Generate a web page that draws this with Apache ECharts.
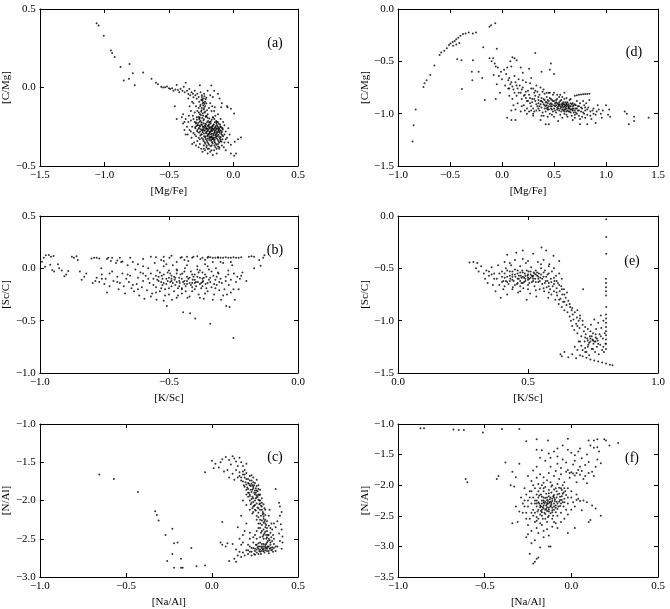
<!DOCTYPE html>
<html>
<head>
<meta charset="utf-8">
<script src="https://cdn.jsdelivr.net/npm/echarts@6/dist/echarts.min.js"></script>
<style>html,body{margin:0;padding:0;background:#fff}#c{width:670px;height:609px}</style>
</head>
<body>
<div id="c"></div>
<script>
// ---------- data ----------
const panelA = [
[-1.06,0.41],[-1.045,0.395],[-1.005,0.33],[-0.95,0.235],[-0.94,0.22],[-0.92,0.195],[-0.875,0.13],[-0.805,0.15],[-0.78,0.09],[-0.81,0.055],[-0.85,0.045],[-0.765,0.015],[-0.70,0.095],[-0.635,0.055],[-0.60,0.03],[-0.585,0.02],
[-0.56,0.004],[-0.545,0.0],[-0.53,0.002],[-0.515,0.006],[-0.50,-0.004],[-0.49,-0.01],[-0.475,-0.004],[-0.465,-0.02],[-0.45,-0.012],[-0.44,0.016],[-0.43,-0.016],[-0.42,-0.03],[-0.41,-0.008],[-0.395,-0.02],[-0.385,0.005],[-0.378,-0.03],[-0.37,0.03],[-0.36,-0.02],[-0.35,-0.042],[-0.342,-0.01],[-0.335,-0.05],[-0.325,-0.03],[-0.315,-0.04],[-0.31,-0.062],[-0.30,-0.02],[-0.295,-0.05],[-0.285,-0.072],[-0.28,-0.04],[-0.27,-0.06],[-0.26,0.015],[-0.255,-0.03],[-0.25,-0.08],[-0.245,-0.05],[-0.238,-0.1],[-0.232,-0.07],[-0.228,-0.04],[-0.22,-0.09],
[-0.455,-0.12],[-0.44,-0.2],[-0.172,0.012],[-0.15,-0.02],[-0.12,-0.04],[-0.108,-0.07],[-0.09,-0.1],[-0.05,-0.12],[-0.02,-0.135],[0.005,-0.165],[-0.145,-0.125],[-0.095,-0.125],[-0.045,-0.125],[-0.2,-0.02],[-0.18,-0.05],[-0.16,-0.06],
[-0.265,-0.09],[-0.255,-0.11],[-0.245,-0.13],[-0.24,-0.085],[-0.235,-0.115],[-0.23,-0.14],[-0.225,-0.16],[-0.22,-0.12],[-0.215,-0.075],[-0.21,-0.1],[-0.205,-0.145],[-0.25,-0.155],[-0.26,-0.17],[-0.235,-0.18],[-0.215,-0.185],[-0.2,-0.17],[-0.27,-0.13],[-0.28,-0.15],[-0.29,-0.12],[-0.3,-0.16],[-0.245,-0.06],[-0.225,-0.055],[-0.21,-0.065],[-0.32,-0.09],[-0.34,-0.12],[-0.31,-0.1],[-0.35,-0.07],[-0.33,-0.15],[-0.19,-0.13],[-0.18,-0.1],[-0.17,-0.15],[-0.165,-0.12],
[-0.4,-0.19],[-0.39,-0.23],[-0.38,-0.27],[-0.37,-0.2],[-0.36,-0.25],[-0.355,-0.3],[-0.35,-0.22],[-0.345,-0.18],[-0.34,-0.27],[-0.33,-0.21],[-0.325,-0.32],[-0.32,-0.25],[-0.315,-0.18],[-0.31,-0.29],[-0.305,-0.35],[-0.3,-0.22],[-0.295,-0.26],[-0.29,-0.31],[-0.285,-0.19],[-0.28,-0.34],[-0.275,-0.24],[-0.27,-0.38],[-0.265,-0.2],[-0.26,-0.36],[-0.25,-0.39],[-0.24,-0.41],[-0.23,-0.37],[-0.22,-0.4],[-0.21,-0.38],[-0.2,-0.42],[-0.19,-0.39],[-0.18,-0.41],[-0.17,-0.37],[-0.16,-0.43],[-0.15,-0.4],[-0.14,-0.38],[-0.13,-0.42],[-0.12,-0.36],[-0.11,-0.39],[-0.1,-0.34],[-0.09,-0.37],[-0.08,-0.31],[-0.07,-0.35],[-0.06,-0.28],[-0.05,-0.32],[-0.04,-0.26],[-0.06,-0.4],[-0.02,-0.42],[0.005,-0.435],[0.02,-0.42],[-0.02,-0.365],[0.035,-0.33],[0.01,-0.345],[0.058,-0.318],[-0.03,-0.3],[-0.08,-0.22],[-0.1,-0.2],[-0.12,-0.17],[-0.13,-0.22],[-0.14,-0.18],[-0.11,-0.26],[-0.09,-0.28],[-0.07,-0.24],[-0.15,-0.15],[-0.16,-0.19],
[-0.272,-0.188],[-0.243,-0.194],[-0.214,-0.186],[-0.187,-0.197],[-0.158,-0.191],
[-0.283,-0.205],[-0.256,-0.211],[-0.229,-0.202],[-0.197,-0.214],[-0.168,-0.206],[-0.134,-0.213],
[-0.291,-0.223],[-0.262,-0.218],[-0.233,-0.227],[-0.205,-0.221],[-0.176,-0.229],[-0.145,-0.222],[-0.113,-0.231],
[-0.278,-0.239],[-0.249,-0.234],[-0.219,-0.243],[-0.19,-0.237],[-0.161,-0.246],[-0.129,-0.239],[-0.101,-0.248],
[-0.296,-0.252],[-0.266,-0.258],[-0.238,-0.251],[-0.208,-0.26],[-0.179,-0.254],[-0.149,-0.262],[-0.118,-0.255],
[-0.281,-0.272],[-0.252,-0.266],[-0.223,-0.275],[-0.194,-0.268],[-0.165,-0.277],[-0.136,-0.27],[-0.106,-0.279],[-0.082,-0.268],
[-0.268,-0.288],[-0.239,-0.283],[-0.211,-0.292],[-0.182,-0.285],[-0.153,-0.294],[-0.123,-0.287],[-0.095,-0.296],
[-0.257,-0.305],[-0.228,-0.311],[-0.199,-0.303],[-0.17,-0.312],[-0.141,-0.306],[-0.112,-0.314],[-0.087,-0.304],
[-0.245,-0.322],[-0.216,-0.328],[-0.187,-0.321],[-0.158,-0.33],[-0.129,-0.323],[-0.1,-0.331],
[-0.232,-0.341],[-0.203,-0.347],[-0.174,-0.339],[-0.145,-0.348],[-0.116,-0.342],
[-0.219,-0.358],[-0.19,-0.364],[-0.161,-0.356],[-0.132,-0.365],
[-0.228,-0.248],[-0.199,-0.245],[-0.171,-0.25],[-0.142,-0.254],[-0.213,-0.264],[-0.184,-0.259],[-0.156,-0.266],[-0.127,-0.262],[-0.205,-0.28],[-0.176,-0.278],[-0.147,-0.284],[-0.118,-0.271],[-0.196,-0.296],[-0.167,-0.293],[-0.138,-0.3],[-0.186,-0.312],[-0.157,-0.318],[-0.128,-0.309],[-0.235,-0.265],[-0.246,-0.298],[-0.219,-0.231],[-0.188,-0.225],[-0.152,-0.236],[-0.124,-0.247],[-0.261,-0.242],[-0.2,-0.325],[-0.173,-0.33],[-0.215,-0.31],[-0.24,-0.276],[-0.108,-0.288],[-0.099,-0.316],[-0.145,-0.331]
];
const panelAExtra = [
[-0.263,-0.197],[-0.232,-0.209],[-0.201,-0.193],[-0.176,-0.216],[-0.148,-0.2],[-0.121,-0.219],
[-0.274,-0.226],[-0.247,-0.221],[-0.214,-0.234],[-0.183,-0.219],[-0.157,-0.24],[-0.132,-0.228],[-0.104,-0.236],
[-0.286,-0.245],[-0.259,-0.249],[-0.226,-0.256],[-0.195,-0.241],[-0.169,-0.262],[-0.139,-0.247],[-0.112,-0.266],[-0.09,-0.256],
[-0.27,-0.262],[-0.244,-0.27],[-0.211,-0.258],[-0.187,-0.281],[-0.158,-0.269],[-0.131,-0.283],[-0.1,-0.273],
[-0.259,-0.281],[-0.229,-0.293],[-0.2,-0.276],[-0.174,-0.3],[-0.145,-0.289],[-0.116,-0.302],[-0.092,-0.286],
[-0.25,-0.3],[-0.219,-0.317],[-0.191,-0.298],[-0.162,-0.322],[-0.134,-0.313],[-0.105,-0.325],
[-0.236,-0.33],[-0.207,-0.336],[-0.18,-0.318],[-0.15,-0.341],[-0.122,-0.333],[-0.093,-0.345],
[-0.222,-0.349],[-0.195,-0.355],[-0.166,-0.348],[-0.138,-0.357],[-0.11,-0.35],
[-0.207,-0.37],[-0.177,-0.374],[-0.148,-0.369],[-0.12,-0.376],
[-0.243,-0.24],[-0.216,-0.247],[-0.19,-0.252],[-0.163,-0.256],[-0.134,-0.259],[-0.226,-0.272],[-0.2,-0.264],[-0.172,-0.27],[-0.144,-0.276],[-0.117,-0.281],[-0.212,-0.287],[-0.185,-0.291],[-0.157,-0.304],[-0.129,-0.296],[-0.2,-0.309],[-0.171,-0.316],[-0.143,-0.32],[-0.188,-0.335],[-0.16,-0.33],
[-0.258,-0.12],[-0.248,-0.145],[-0.238,-0.165],[-0.228,-0.13],[-0.218,-0.155],[-0.208,-0.18],[-0.262,-0.19],[-0.252,-0.175],[-0.232,-0.095],[-0.242,-0.075],[-0.225,-0.105],[-0.268,-0.16],
[-0.33,-0.28],[-0.32,-0.36],[-0.3,-0.3],[-0.29,-0.37],[-0.28,-0.28],[-0.27,-0.32],[-0.26,-0.33],[-0.1,-0.25],[-0.085,-0.26],[-0.07,-0.3],[-0.06,-0.33],[-0.075,-0.38],[-0.04,-0.35],[-0.085,-0.33],[-0.11,-0.38],[-0.13,-0.39],[-0.17,-0.4],[-0.2,-0.39],[-0.23,-0.39],[-0.31,-0.2],[-0.29,-0.23],[-0.37,-0.3],[-0.38,-0.22],[-0.39,-0.17]
];
const panelB = [
[-0.992,0.062],[-0.985,0.1],[-0.977,0.126],[-0.965,0.128],[-0.957,0.11],[-0.947,0.118],[-0.98,0.016],[-0.96,0.035],[-0.952,-0.017],[-0.945,-0.03],[-0.93,0.04],[-0.925,0.0],[-0.915,-0.02],[-0.905,-0.075],[-0.898,-0.06],[-0.89,-0.025],[-0.876,0.11],[-0.868,0.1],[-0.858,0.115],[-0.853,0.08],[-0.845,-0.03],[-0.838,-0.11],[-0.828,-0.08],[-0.82,-0.05],[-0.8,0.095],[-0.79,0.1],[-0.78,0.1],[-0.77,0.095],[-0.762,0.0],
[-0.795,-0.14],[-0.785,-0.12],[-0.78,-0.09],[-0.77,-0.13],[-0.76,-0.06],[-0.75,-0.15],[-0.745,-0.1],[-0.74,-0.23],[-0.735,0.1],[-0.73,-0.17],[-0.725,0.07],[-0.72,-0.03],[-0.715,-0.12],[-0.705,0.05],[-0.7,-0.08],[-0.695,-0.2],[-0.69,-0.14],[-0.685,0.06],[-0.68,-0.05],[-0.675,-0.17],[-0.67,-0.24],[-0.665,-0.1],[-0.66,0.03],[-0.655,-0.13],[-0.65,-0.07],[-0.645,-0.19],[-0.64,0.06],[-0.635,-0.22],[-0.63,-0.01],[-0.625,-0.15],[-0.62,-0.09],[-0.615,-0.26],[-0.61,-0.04],[-0.605,-0.18],[-0.6,0.02],[-0.6,-0.12],[-0.595,-0.29],[-0.59,-0.07],
[-0.585,-0.21],[-0.58,0.0],[-0.575,-0.14],[-0.57,-0.05],[-0.565,-0.24],[-0.56,-0.1],[-0.555,0.05],[-0.55,-0.18],[-0.548,-0.3],[-0.545,-0.02],[-0.54,-0.12],[-0.535,-0.22],[-0.53,0.08],[-0.528,-0.07],[-0.525,-0.16],[-0.52,0.02],[-0.515,-0.26],[-0.51,-0.1],[-0.508,-0.36],[-0.505,-0.04],[-0.5,-0.19],[-0.498,0.1],[-0.495,-0.13],[-0.49,-0.07],[-0.488,-0.3],[-0.485,0.03],[-0.48,-0.22],[-0.478,-0.11],[-0.475,-0.16],[-0.47,0.06],[-0.468,-0.02],[-0.465,-0.26],[-0.46,-0.09],[-0.458,-0.14],[-0.455,0.1],[-0.45,-0.2],[-0.448,-0.05],[-0.445,-0.42],[-0.44,-0.12],[-0.438,0.0],[-0.435,-0.17],[-0.43,-0.08],[-0.428,-0.28],[-0.425,0.07],[-0.42,-0.14],[-0.418,-0.43],[-0.415,-0.03],[-0.41,-0.22],[-0.408,-0.11],[-0.405,0.11],[-0.4,-0.06],[-0.398,-0.48],[-0.395,-0.17],[-0.39,0.02],[-0.388,-0.13],[-0.385,-0.25],[-0.38,-0.09],[-0.378,0.09],[-0.375,-0.19],[-0.37,-0.04],[-0.368,-0.12],[-0.365,-0.29],[-0.36,0.04],[-0.358,-0.15],[-0.355,-0.08],[-0.35,-0.22],[-0.348,0.11],[-0.345,-0.01],[-0.34,-0.53],[-0.34,-0.13],[-0.335,-0.18],[-0.33,0.06],[-0.328,-0.07],[-0.325,-0.25],[-0.32,-0.11],[-0.318,0.0],[-0.315,-0.16],[-0.31,0.1],[-0.308,-0.05],[-0.305,-0.21],[-0.3,-0.1],[-0.298,-0.3],
[-0.54,-0.08],[-0.53,-0.13],[-0.52,-0.06],[-0.51,-0.15],[-0.5,-0.09],[-0.49,-0.12],[-0.48,-0.08],[-0.47,-0.13],[-0.46,-0.17],[-0.45,-0.1],[-0.44,-0.15],[-0.43,-0.12],[-0.42,-0.09],[-0.41,-0.14],[-0.4,-0.11],[-0.39,-0.08],[-0.38,-0.15],[-0.37,-0.1],[-0.36,-0.06],[-0.35,-0.14],[-0.5,-0.02],[-0.47,-0.05],[-0.44,-0.03],[-0.41,-0.06],[-0.38,-0.02],[-0.53,-0.19],[-0.49,-0.17],[-0.45,-0.19],[-0.41,-0.18],[-0.37,-0.17],
[-0.295,-0.14],[-0.29,0.05],[-0.285,-0.2],[-0.28,-0.08],[-0.278,-0.36],[-0.275,-0.25],[-0.27,-0.02],[-0.268,-0.16],[-0.265,-0.37],[-0.26,-0.11],[-0.255,0.03],[-0.25,-0.2],[-0.248,-0.05],[-0.245,-0.3],[-0.24,-0.13],[-0.25,-0.665],[-0.235,-0.08],[-0.23,-0.2],[-0.225,-0.1],[-0.22,-0.07],[-0.215,-0.04],[-0.2,-0.12],
[-0.35,0.1],[-0.34,0.105],[-0.33,0.1],[-0.32,0.1],[-0.31,0.105],[-0.3,0.1],[-0.29,0.1],[-0.28,0.105],[-0.27,0.1],[-0.26,0.1],[-0.25,0.105],[-0.24,0.1],[-0.23,0.1],[-0.22,0.105],[-0.19,0.11],[-0.18,0.115],[-0.17,0.11],[-0.15,0.08],[-0.145,0.025],[-0.135,0.1],[-0.13,0.125],[-0.17,0.0],
[-0.57,0.11],[-0.55,0.105],[-0.52,0.11],[-0.49,0.12],[-0.45,0.105],[-0.43,0.11],[-0.41,0.1],[-0.39,0.115],[-0.37,0.1],[-0.74,0.09],[-0.72,0.1],[-0.7,0.075],[-0.68,0.065],[-0.62,0.04]
];
const panelBExtra = [
[-0.545,-0.11],[-0.535,-0.04],[-0.525,-0.1],[-0.515,-0.2],[-0.505,-0.12],[-0.495,-0.05],[-0.485,-0.14],[-0.475,-0.09],[-0.465,-0.19],[-0.455,-0.06],[-0.445,-0.13],[-0.435,-0.22],[-0.425,-0.1],[-0.415,-0.16],[-0.405,-0.08],[-0.395,-0.13],[-0.385,-0.04],[-0.375,-0.14],[-0.365,-0.09],[-0.355,-0.19],[-0.345,-0.11],[-0.335,-0.03],[-0.325,-0.15],[-0.315,-0.08],[-0.305,-0.13],[-0.56,-0.16],[-0.55,-0.07],[-0.52,-0.14],[-0.49,-0.1],[-0.46,-0.12],[-0.43,-0.15],[-0.4,-0.14],[-0.37,-0.13],[-0.34,-0.09],[-0.47,-0.01],[-0.43,0.03],[-0.39,-0.01],[-0.35,0.02],[-0.51,0.04],[-0.55,-0.23],[-0.5,-0.25],[-0.45,-0.24],[-0.4,-0.2],[-0.36,-0.24],[-0.32,-0.19],[-0.6,-0.05],[-0.62,-0.2],[-0.58,-0.1],[-0.66,-0.06],[-0.7,-0.13],[-0.76,-0.1],[-0.73,-0.05],[-0.64,-0.16],[-0.57,-0.27],[-0.52,-0.31],[-0.47,-0.28],[-0.42,-0.27],[-0.38,-0.28],[-0.33,-0.3],[-0.29,-0.26],[-0.26,-0.23],[-0.28,-0.12],[-0.27,-0.06],[-0.31,-0.04],[-0.3,0.06],[-0.26,0.06],[-0.36,0.08],[-0.44,0.08],[-0.52,0.07],[-0.6,0.09],[-0.65,0.1],[-0.69,0.1]
];
const panelC = [
[0.0,-1.48],[0.02,-1.52],[0.05,-1.5],[0.06,-1.46],[0.08,-1.43],[0.1,-1.47],[0.12,-1.42],[0.13,-1.45],[0.14,-1.49],[0.16,-1.44],[0.17,-1.5],[0.18,-1.55],[0.15,-1.55],[0.11,-1.53],[0.09,-1.6],[0.07,-1.62],[0.12,-1.65],[0.14,-1.6],[0.16,-1.63],[0.19,-1.6],[0.1,-1.7],[0.13,-1.73],[0.15,-1.7],[-0.04,-1.63],[0.01,-1.58],[0.2,-1.52],[0.04,-1.57],
[0.16,-1.68],[0.17,-1.74],[0.18,-1.66],[0.185,-1.8],[0.19,-1.7],[0.195,-1.76],[0.2,-1.64],[0.205,-1.83],[0.21,-1.72],[0.215,-1.78],[0.22,-1.68],[0.225,-1.86],[0.23,-1.74],[0.235,-1.8],[0.24,-1.7],[0.245,-1.9],[0.25,-1.77],[0.255,-1.84],[0.26,-1.73],[0.265,-1.88],[0.27,-1.8],[0.275,-1.93],[0.28,-1.86],[0.2,-1.79],[0.21,-1.85],[0.22,-1.8],[0.23,-1.89],[0.24,-1.84],[0.25,-1.92],[0.26,-1.87],[0.19,-1.82],[0.18,-1.75],[0.215,-1.9],[0.235,-1.95],[0.255,-1.97],[0.27,-1.99],
[0.21,-1.95],[0.22,-2.0],[0.225,-2.05],[0.23,-1.98],[0.235,-2.1],[0.24,-2.02],[0.245,-2.07],[0.25,-2.0],[0.255,-2.13],[0.26,-2.04],[0.265,-2.09],[0.27,-2.16],[0.275,-2.05],[0.28,-2.12],[0.285,-2.2],[0.29,-2.08],[0.295,-2.15],[0.3,-2.24],[0.305,-2.1],[0.31,-2.19],[0.24,-1.97],[0.26,-1.96],[0.28,-2.0],[0.25,-2.06],[0.27,-2.1],[0.29,-2.03],[0.3,-2.17],[0.28,-2.25],[0.26,-2.2],[0.22,-2.12],[0.2,-2.06],[0.18,-2.0],[0.235,-2.17],[0.31,-2.3],[0.32,-2.27],
[0.27,-2.3],[0.28,-2.36],[0.285,-2.42],[0.29,-2.32],[0.295,-2.47],[0.3,-2.38],[0.305,-2.43],[0.31,-2.35],[0.315,-2.5],[0.32,-2.4],[0.325,-2.45],[0.33,-2.33],[0.335,-2.52],[0.34,-2.42],[0.345,-2.48],[0.3,-2.5],[0.28,-2.48],[0.26,-2.4],[0.25,-2.45],[0.32,-2.55],[0.35,-2.38],[0.36,-2.3],[0.3,-2.29],
[0.2,-2.65],[0.21,-2.7],[0.22,-2.6],[0.23,-2.67],[0.24,-2.55],[0.245,-2.7],[0.25,-2.63],[0.255,-2.58],[0.26,-2.68],[0.265,-2.61],[0.27,-2.56],[0.275,-2.66],[0.28,-2.6],[0.285,-2.7],[0.29,-2.57],[0.295,-2.64],[0.3,-2.6],[0.305,-2.68],[0.31,-2.62],[0.315,-2.57],[0.32,-2.66],[0.325,-2.6],[0.33,-2.69],[0.335,-2.63],[0.34,-2.58],[0.345,-2.65],[0.35,-2.61],[0.355,-2.67],[0.36,-2.62],[0.27,-2.63],[0.29,-2.62],[0.31,-2.65],[0.33,-2.6],[0.3,-2.66],[0.26,-2.64],[0.28,-2.67],[0.32,-2.63],[0.24,-2.62],[0.19,-2.72],[0.18,-2.68],[0.17,-2.74],
[0.37,-1.85],[0.39,-2.03],[0.395,-2.08],[0.405,-2.15],[0.395,-2.2],[0.38,-2.27],[0.4,-2.31],[0.37,-2.35],[0.405,-2.38],[0.39,-2.43],[0.41,-2.47],[0.395,-2.53],[0.41,-2.55],[0.38,-2.6],[0.405,-2.63],[0.37,-2.66],[0.36,-2.5],[0.355,-2.45],[0.345,-2.3],[0.33,-2.2],[0.335,-2.12],
[0.06,-2.28],[0.05,-2.55],[0.06,-2.58],[0.08,-2.6],[0.09,-2.56],[0.1,-2.79],[0.12,-2.57],[0.14,-2.64],[0.15,-2.72],[0.16,-2.67],[0.17,-2.58],[0.16,-2.5],[0.18,-2.45],[0.19,-2.4],[0.2,-2.3],[0.17,-2.2],[0.15,-2.35],[0.22,-2.5],[0.21,-2.58],[0.13,-2.76],[0.14,-2.8],[0.18,-2.55],
[-0.655,-1.66],[-0.57,-1.72],[-0.43,-1.89],[-0.33,-2.14],[-0.32,-2.19],[-0.31,-2.26],[-0.27,-2.45],[-0.23,-2.37],[-0.22,-2.56],[-0.2,-2.55],[-0.23,-2.7],[-0.26,-2.79],[-0.18,-2.76],[-0.22,-2.88],[-0.18,-2.88],[-0.17,-2.88],[-0.09,-2.86],[-0.04,-2.85],[-0.12,-2.62]
];
const panelCExtra = [
[0.19,-1.66],[0.2,-1.72],[0.21,-1.77],[0.22,-1.74],[0.225,-1.81],[0.23,-1.78],[0.235,-1.86],[0.24,-1.82],[0.245,-1.8],[0.25,-1.87],[0.255,-1.9],[0.26,-1.93],[0.265,-1.95],[0.27,-1.92],[0.275,-2.0],[0.28,-2.04],[0.285,-2.07],[0.29,-2.12],[0.295,-2.18],[0.3,-2.21],[0.305,-2.27],[0.31,-2.25],[0.315,-2.32],[0.32,-2.36],[0.31,-2.41],[0.315,-2.45],[0.32,-2.48],[0.33,-2.5],[0.325,-2.53],[0.31,-2.58],[0.3,-2.63],[0.29,-2.66],[0.28,-2.64],[0.27,-2.6],[0.33,-2.66],[0.34,-2.62],[0.35,-2.64],[0.32,-2.61],[0.31,-2.6],[0.3,-2.57],[0.29,-2.6],[0.28,-2.55],[0.26,-2.58],[0.25,-2.66],[0.23,-2.62],[0.22,-2.67],[0.34,-2.55],[0.35,-2.53],[0.33,-2.45],[0.34,-2.36],[0.29,-2.4],[0.3,-2.45],[0.28,-2.3],[0.29,-2.26],[0.27,-2.22],[0.25,-2.12],[0.24,-2.08],[0.23,-2.03],[0.22,-1.94],[0.21,-1.9],[0.2,-1.86],[0.17,-1.7],[0.18,-1.62],[0.23,-1.67],[0.24,-1.76],[0.26,-1.81],[0.27,-1.85],[0.28,-1.92],[0.29,-1.97],[0.3,-2.05],[0.31,-2.12],[0.22,-1.92],[0.2,-1.92],[0.24,-2.15],[0.26,-2.25],[0.27,-2.36],[0.26,-2.5],[0.24,-2.48],[0.22,-2.42],[0.21,-2.65],[0.23,-2.72],[0.25,-2.71],[0.27,-2.7],[0.36,-2.57],[0.37,-2.6]
];
const panelD = [
[-0.86,-1.265],[-0.85,-1.11],[-0.83,-0.96],[-0.755,-0.745],[-0.745,-0.71],[-0.725,-0.68],[-0.69,-0.63],[-0.65,-0.54],[-0.6,-0.44],[-0.585,-0.415],[-0.555,-0.4],[-0.53,-0.375],[-0.51,-0.345],[-0.495,-0.33],[-0.475,-0.315],[-0.455,-0.305],[-0.44,-0.29],[-0.42,-0.275],[-0.4,-0.255],[-0.375,-0.24],[-0.35,-0.235],[-0.32,-0.225],[-0.28,-0.235],[-0.25,-0.225],[-0.12,-0.17],[-0.105,-0.155],[-0.065,-0.135],[-0.44,-0.34],[-0.41,-0.325],[-0.47,-0.35],
[-0.43,-0.48],[-0.39,-0.49],[-0.385,-0.765],[-0.29,-0.6],[-0.285,-0.68],[-0.28,-0.49],[-0.225,-0.6],[-0.19,-0.66],[-0.18,-0.365],[-0.165,-0.87],[-0.12,-0.47],[-0.085,-0.47],[-0.05,-0.38],[-0.07,-0.52],[-0.06,-0.55],[-0.1,-0.5],[-0.04,-0.56],[-0.03,-0.64],[-0.05,-0.72],[-0.01,-0.6],[0.0,-0.67],[-0.08,-0.63],[-0.06,-0.86],[-0.02,-0.8],[0.02,-0.58],[0.04,-0.62],[0.05,-0.56],[0.08,-0.5],[0.1,-0.46],[0.12,-0.47],[0.14,-0.49],[0.09,-0.55],[0.06,-0.68],[0.03,-0.73],[0.07,-0.76],[0.32,-0.42],[0.47,-0.52],[0.46,-0.58],[0.5,-0.62],[0.38,-0.6],[0.26,-0.57],[0.2,-0.61],[0.18,-0.56],[0.28,-0.66],[0.05,-1.04],[0.09,-1.06],[0.13,-1.06],[0.3,-1.02],[0.42,-1.1],[0.45,-1.1],[0.37,-1.06],[0.54,-1.07],[0.75,-1.1],[0.82,-1.1],[0.68,-1.06],[0.9,-1.09],[1.0,-0.92],[1.03,-0.96],[1.02,-1.01],[1.04,-1.03],[0.97,-0.97],[0.95,-1.0],[1.2,-1.0],[1.22,-1.1],[1.27,-1.03],[1.27,-1.07],[1.41,-1.04],[1.18,-0.98],[0.85,-0.98],[0.88,-0.95],[0.92,-0.92],
[0.7,-0.83],[0.72,-0.825],[0.74,-0.82],[0.76,-0.818],[0.78,-0.815],[0.8,-0.813],[0.82,-0.812],[0.84,-0.81],
[0.06,-0.76],[0.08,-0.72],[0.1,-0.74],[0.12,-0.8],[0.1,-0.86],[0.13,-0.7],[0.15,-0.76],[0.14,-0.83],[0.07,-0.83],[0.11,-0.92],[0.15,-0.9],[0.09,-0.97],[0.13,-0.96],[0.16,-0.67],[0.12,-0.64],
[0.17,-0.73],[0.18,-0.8],[0.19,-0.86],[0.2,-0.75],[0.21,-0.92],[0.22,-0.82],[0.23,-0.7],[0.24,-0.88],[0.18,-0.98],[0.22,-0.97],[0.25,-0.78],[0.2,-0.68],[0.24,-0.95],[0.19,-0.93],[0.23,-0.85],
[0.26,-0.82],[0.27,-0.9],[0.28,-0.76],[0.29,-0.86],[0.3,-0.95],[0.31,-0.8],[0.32,-0.88],[0.33,-0.73],[0.34,-0.93],[0.26,-0.98],[0.3,-1.0],[0.35,-0.84],[0.28,-0.93],[0.33,-0.97],[0.32,-0.78],[0.27,-0.71],[0.35,-0.9],
[0.36,-0.82],[0.37,-0.88],[0.38,-0.94],[0.39,-0.79],[0.4,-0.86],[0.41,-0.92],[0.42,-0.98],[0.43,-0.84],[0.44,-0.9],[0.45,-0.8],[0.36,-0.97],[0.4,-1.02],[0.43,-0.95],[0.38,-0.85],[0.41,-0.81],[0.44,-0.87],[0.45,-0.93],[0.37,-0.91],[0.42,-0.89],[0.39,-0.99],
[0.46,-0.85],[0.47,-0.9],[0.48,-0.96],[0.49,-0.82],[0.5,-0.88],[0.51,-0.93],[0.52,-0.99],[0.53,-0.86],[0.54,-0.91],[0.55,-0.84],[0.46,-1.0],[0.5,-1.03],[0.53,-0.96],[0.48,-0.87],[0.51,-0.9],[0.47,-0.93],[0.52,-0.89],[0.54,-0.95],[0.49,-0.98],[0.55,-0.92],[0.46,-0.8],
[0.56,-0.88],[0.57,-0.94],[0.58,-0.9],[0.59,-0.97],[0.6,-0.86],[0.61,-0.92],[0.62,-0.95],[0.63,-0.89],[0.64,-0.98],[0.65,-0.93],[0.56,-1.01],[0.6,-1.0],[0.63,-1.03],[0.58,-0.93],[0.61,-0.96],[0.57,-0.91],[0.62,-0.91],[0.59,-0.94],[0.64,-0.95],[0.6,-0.93],[0.65,-0.87],[0.58,-0.84],
[0.66,-0.9],[0.67,-0.96],[0.68,-0.93],[0.69,-0.99],[0.7,-0.91],[0.71,-0.95],[0.72,-1.0],[0.73,-0.93],[0.74,-0.97],[0.75,-0.9],[0.67,-1.02],[0.7,-1.04],[0.66,-0.86],[0.72,-0.88],[0.68,-0.97],[0.74,-1.02],
[0.76,-0.94],[0.78,-0.99],[0.79,-0.92],[0.8,-0.97],[0.82,-1.01],[0.83,-0.94],[0.85,-1.02],[0.87,-0.97],[0.9,-1.01],[0.93,-0.96],[0.77,-1.03],[0.81,-0.9],[0.84,-0.87],[0.78,-0.88],
[0.43,-0.92],[0.45,-0.96],[0.47,-0.86],[0.5,-0.95],[0.52,-0.92],[0.55,-0.97],[0.57,-0.87],[0.59,-0.91],[0.6,-0.96],[0.62,-0.93],[0.63,-0.97],[0.65,-0.95],[0.66,-0.93],[0.68,-0.9],[0.69,-0.95],[0.71,-0.92],[0.64,-0.91],[0.61,-0.89],[0.56,-0.93],[0.53,-0.9],[0.48,-0.93],[0.44,-0.94],[0.41,-0.95],[0.39,-0.89]
];
const panelDExtra = [
[0.31,-0.86],[0.33,-0.91],[0.35,-0.87],[0.36,-0.93],[0.38,-0.88],[0.4,-0.91],[0.41,-0.87],[0.43,-0.89],[0.44,-0.96],[0.46,-0.91],[0.47,-0.95],[0.49,-0.88],[0.5,-0.92],[0.51,-0.97],[0.52,-0.87],[0.54,-0.93],[0.55,-0.89],[0.56,-0.95],[0.57,-0.98],[0.58,-0.96],[0.59,-0.89],[0.6,-0.91],[0.61,-0.94],[0.62,-0.98],[0.63,-0.92],[0.64,-0.94],[0.65,-0.98],[0.66,-0.96],[0.67,-0.91],[0.68,-0.95],[0.69,-0.92],[0.7,-0.97],[0.71,-0.99],[0.72,-0.95],[0.73,-0.97],[0.74,-0.93],[0.76,-0.98],[0.77,-0.95],[0.79,-1.0],[0.8,-0.94],[0.42,-0.93],[0.45,-0.88],[0.48,-0.91],[0.53,-0.94],[0.55,-0.91],[0.58,-0.92],[0.6,-0.98],[0.62,-0.9],[0.64,-0.93],[0.66,-0.99],[0.35,-0.95],[0.32,-0.83],[0.29,-0.89],[0.27,-0.85],[0.25,-0.88],[0.23,-0.79],[0.21,-0.83],[0.19,-0.77],[0.16,-0.8],[0.14,-0.73],[0.11,-0.77],[0.09,-0.7],[0.07,-0.66],[0.28,-0.97],[0.31,-0.98],[0.24,-1.0],[0.38,-1.02],[0.44,-1.03],[0.48,-1.01],[0.58,-1.04],[0.62,-1.01],[0.7,-1.01],[0.75,-1.05],[0.8,-1.04],[0.86,-1.05],[0.88,-1.0],[0.91,-0.98],[0.96,-1.04],[0.82,-0.96],[0.3,-0.76],[0.34,-0.79],[0.37,-0.75],[0.4,-0.77],[0.43,-0.8],[0.5,-0.8],[0.53,-0.82],[0.56,-0.82],[0.62,-0.85],[0.6,-0.8]
];
const panelE = [
[0.275,-0.445],[0.29,-0.44],[0.305,-0.45],[0.3,-0.5],[0.31,-0.53],[0.32,-0.48],[0.33,-0.55],[0.335,-0.6],[0.34,-0.52],[0.35,-0.57],[0.345,-0.64],[0.36,-0.49],[0.365,-0.66],[0.37,-0.55],[0.375,-0.72],[0.38,-0.6],[0.385,-0.47],[0.39,-0.66],[0.395,-0.78],[0.4,-0.53],[0.405,-0.7],[0.41,-0.44],[0.415,-0.62],[0.42,-0.37],[0.42,-0.75],
[0.4,-0.58],[0.405,-0.62],[0.41,-0.55],[0.415,-0.5],[0.42,-0.58],[0.425,-0.65],[0.43,-0.53],[0.432,-0.6],[0.435,-0.47],[0.44,-0.56],[0.442,-0.68],[0.445,-0.62],[0.45,-0.51],[0.452,-0.58],[0.455,-0.35],[0.458,-0.65],[0.46,-0.55],[0.462,-0.73],[0.465,-0.6],[0.47,-0.48],[0.472,-0.57],[0.475,-0.64],[0.478,-0.52],[0.48,-0.33],[0.482,-0.69],[0.485,-0.59],[0.488,-0.55],[0.49,-0.62],[0.492,-0.45],[0.495,-0.8],[0.498,-0.57],[0.5,-0.66],[0.502,-0.53],[0.505,-0.6],[0.508,-0.74],[0.51,-0.56],[0.512,-0.49],[0.515,-0.63],[0.518,-0.58],[0.52,-0.36],[0.522,-0.54],[0.525,-0.67],[0.528,-0.6],[0.53,-0.52],[0.532,-0.77],[0.535,-0.57],[0.538,-0.44],[0.54,-0.63],[0.542,-0.55],[0.545,-0.7],[0.548,-0.59],[0.55,-0.5],
[0.43,-0.57],[0.44,-0.61],[0.45,-0.56],[0.46,-0.6],[0.47,-0.62],[0.48,-0.58],[0.49,-0.6],[0.5,-0.56],[0.51,-0.59],[0.52,-0.57],[0.53,-0.56],[0.44,-0.53],[0.46,-0.64],[0.48,-0.64],[0.5,-0.61],[0.52,-0.62],[0.42,-0.63],[0.41,-0.59],[0.47,-0.54],[0.54,-0.6],
[0.552,-0.3],[0.555,-0.65],[0.56,-0.58],[0.562,-0.72],[0.565,-0.52],[0.568,-0.62],[0.57,-0.33],[0.572,-0.68],[0.575,-0.56],[0.578,-0.78],[0.58,-0.64],[0.582,-0.46],[0.585,-0.7],[0.588,-0.6],[0.59,-0.75],[0.592,-0.53],[0.595,-0.67],[0.598,-0.38],[0.6,-0.72],[0.602,-0.62],[0.605,-0.8],[0.608,-0.57],[0.61,-0.69],[0.612,-0.76],[0.615,-0.64],[0.618,-0.84],[0.62,-0.43],[0.622,-0.72],[0.625,-0.79],[0.628,-0.67],[0.63,-0.87],[0.632,-0.75],[0.635,-0.82],[0.638,-0.7],[0.64,-0.9],[0.645,-0.78],[0.648,-0.85],[0.65,-0.73],[0.6,-0.65],[0.58,-0.67],[0.61,-0.73],
[0.652,-0.92],[0.655,-0.81],[0.66,-0.96],[0.662,-0.87],[0.665,-1.0],[0.668,-0.9],[0.67,-1.05],[0.672,-0.94],[0.675,-0.99],[0.678,-1.09],[0.68,-0.92],[0.685,-1.03],[0.688,-0.97],[0.69,-1.12],[0.695,-1.0],[0.698,-1.07],[0.7,-0.95],[0.705,-1.15],[0.71,-1.04],[0.712,-0.7],
[0.715,-1.1],[0.718,-1.2],[0.72,-1.26],[0.722,-1.13],[0.725,-1.3],[0.728,-1.17],[0.73,-1.08],[0.732,-1.23],[0.735,-1.33],[0.738,-1.15],[0.74,-1.2],[0.742,-1.04],[0.745,-1.27],[0.748,-1.18],[0.75,-1.12],[0.752,-1.22],[0.755,-0.99],[0.758,-1.3],[0.76,-1.16],[0.762,-1.08],[0.765,-1.25],[0.768,-1.19],[0.77,-1.02],[0.772,-1.32],[0.775,-1.13],[0.778,-1.23],[0.78,-0.95],[0.782,-1.07],[0.785,-1.28],[0.788,-1.17],[0.79,-1.0],[0.792,-1.3],[0.795,-1.12],[0.798,-1.22],[0.74,-1.17],[0.75,-1.19],[0.76,-1.2],[0.73,-1.19],
[0.625,-1.32],[0.63,-1.34],[0.64,-1.3],[0.655,-1.35],[0.67,-1.32],[0.685,-1.36],[0.69,-1.28],[0.7,-1.33],[0.705,-1.24],[0.695,-1.2],[0.68,-1.25],
[0.71,-1.34],[0.725,-1.355],[0.74,-1.37],[0.755,-1.38],[0.77,-1.39],[0.785,-1.4],[0.8,-1.41],[0.815,-1.42],[0.825,-1.425],
[0.801,-0.03],[0.801,-0.2],[0.801,-0.36],[0.8,-0.6],[0.8,-0.64],[0.8,-0.68],[0.8,-0.72],[0.8,-0.76],[0.801,-0.87],[0.8,-0.94],[0.8,-0.98],[0.8,-1.02],[0.8,-1.06],[0.8,-1.1],[0.8,-1.14],[0.8,-1.18],[0.8,-1.22],[0.8,-1.27]
];
const panelEExtra = [
[0.39,-0.55],[0.4,-0.63],[0.41,-0.67],[0.42,-0.52],[0.43,-0.62],[0.44,-0.58],[0.45,-0.66],[0.46,-0.52],[0.465,-0.57],[0.47,-0.67],[0.475,-0.59],[0.48,-0.54],[0.485,-0.63],[0.49,-0.57],[0.495,-0.52],[0.5,-0.59],[0.505,-0.64],[0.51,-0.53],[0.515,-0.57],[0.52,-0.6],[0.525,-0.55],[0.53,-0.63],[0.535,-0.54],[0.54,-0.58],[0.545,-0.62],[0.55,-0.56],[0.555,-0.6],[0.56,-0.54],[0.565,-0.64],[0.57,-0.58],[0.575,-0.62],[0.58,-0.55],[0.59,-0.63],[0.6,-0.59],[0.61,-0.62],[0.37,-0.6],[0.36,-0.56],[0.35,-0.53],[0.44,-0.7],[0.47,-0.72],[0.5,-0.7],[0.53,-0.71],[0.56,-0.69],[0.58,-0.73],[0.62,-0.66],[0.63,-0.7],[0.64,-0.75],[0.62,-0.8],[0.64,-0.82],[0.66,-0.84],[0.67,-0.88],[0.69,-0.9],[0.7,-0.98],[0.71,-1.0],[0.72,-1.06],[0.69,-1.05],[0.48,-0.41],[0.5,-0.43],[0.45,-0.42],[0.43,-0.45],[0.56,-0.42],[0.58,-0.48],[0.55,-0.46],[0.6,-0.5],[0.62,-0.55],[0.63,-0.6],
[0.72,-1.16],[0.73,-1.25],[0.74,-1.1],[0.75,-1.27],[0.76,-1.13],[0.77,-1.22],[0.78,-1.15],[0.79,-1.25],[0.755,-1.2],[0.745,-1.15],[0.765,-1.17],[0.735,-1.21],[0.71,-1.28],[0.7,-1.2],[0.72,-1.3]
];
const panelF = [
[-0.87,-1.07],[-0.85,-1.07],[-0.68,-1.09],[-0.65,-1.1],[-0.62,-1.1],[-0.51,-1.14],[-0.4,-1.08],[-0.3,-1.08],[-0.26,-1.28],[-0.2,-1.25],[-0.135,-1.27],[-0.02,-1.24],[0.1,-1.27],[0.13,-1.27],[0.15,-1.25],[0.19,-1.25],[0.27,-1.31],[0.22,-1.35],[0.13,-1.39],[0.15,-1.38],[0.11,-1.35],[0.2,-1.27],
[-0.2,-1.42],[-0.17,-1.43],[-0.13,-1.48],[-0.1,-1.45],[-0.12,-1.55],[-0.08,-1.53],[-0.15,-1.6],[-0.05,-1.58],[-0.02,-1.42],[0.0,-1.47],[0.02,-1.51],[0.04,-1.45],[0.06,-1.56],[-0.03,-1.63],[0.01,-1.66],[0.05,-1.7],[0.1,-1.62],[0.08,-1.67],[0.14,-1.7],[0.17,-1.64],[0.12,-1.78],[-0.02,-1.75],[-0.03,-1.78],[-0.01,-1.8],[0.0,-1.79],[0.01,-1.81],[0.03,-1.8],[0.02,-1.84],[0.05,-1.83],[0.06,-1.77],[-0.06,-1.72],[-0.09,-1.77],[-0.13,-1.8],[-0.2,-1.7],[-0.22,-1.76],[-0.18,-1.82],[-0.25,-1.85],[-0.1,-1.85],[-0.07,-1.9],[0.07,-1.9],[0.03,-1.95],[0.09,-1.97],[-0.04,-1.95],[-0.14,-1.92],[-0.16,-1.96],[-0.23,-1.93],[0.08,-1.85],[-0.01,-1.88],
[-0.61,-1.9],[-0.6,-1.95],[-0.43,-1.9],[-0.42,-1.85],[-0.38,-1.63],[-0.3,-1.65],[-0.34,-1.78],[-0.32,-1.87],[-0.35,-2.0],[-0.33,-2.02],[-0.32,-2.35],[-0.3,-2.43],[-0.31,-2.6],[-0.34,-2.62],[-0.29,-2.2],[-0.28,-2.3],
[-0.27,-2.05],[-0.26,-2.15],[-0.27,-2.25],[-0.25,-2.35],[-0.26,-2.45],[-0.24,-2.55],[-0.25,-2.65],[-0.23,-2.75],[-0.25,-2.8],[-0.22,-2.0],[-0.23,-2.1],[-0.21,-2.6],[-0.2,-2.7],[-0.19,-2.78],[-0.17,-2.65],[-0.16,-2.75],[-0.14,-2.72],[-0.13,-2.82],[-0.11,-2.68],[-0.09,-2.62],[-0.08,-2.7],[-0.06,-2.6],[-0.04,-2.55],[-0.02,-2.48],[0.0,-2.4],[0.02,-2.35],[0.01,-2.28],[0.03,-2.15],[0.0,-2.1],[-0.02,-2.05],[-0.05,-2.0],[-0.08,-1.98],[-0.11,-2.0],[-0.19,-1.98],
[0.0,-2.2],[0.03,-2.24],[0.05,-2.26],[0.07,-2.25],[0.06,-2.41],[0.12,-2.33],[0.14,-2.38],[0.17,-2.5],[0.1,-2.6],[0.11,-2.57],[0.02,-2.7],[-0.02,-2.78],[0.04,-2.22],[0.09,-2.28],
[-0.22,-2.2],[-0.21,-2.3],[-0.22,-2.4],[-0.2,-2.15],[-0.2,-2.25],[-0.2,-2.35],[-0.21,-2.45],[-0.2,-2.52],[-0.19,-2.1],[-0.19,-2.2],[-0.185,-2.3],[-0.19,-2.4],[-0.18,-2.48],[-0.18,-2.05],[-0.175,-2.15],[-0.17,-2.25],[-0.175,-2.35],[-0.17,-2.44],[-0.165,-2.55],[-0.16,-2.1],[-0.16,-2.2],[-0.155,-2.3],[-0.16,-2.38],[-0.15,-2.47],[-0.15,-2.03],[-0.145,-2.14],[-0.14,-2.24],[-0.145,-2.33],[-0.14,-2.42],[-0.135,-2.52],[-0.13,-2.08],[-0.13,-2.18],[-0.125,-2.28],[-0.13,-2.37],[-0.12,-2.46],[-0.115,-2.02],[-0.115,-2.12],[-0.11,-2.22],[-0.115,-2.32],[-0.11,-2.41],[-0.105,-2.5],[-0.1,-2.07],[-0.1,-2.16],[-0.095,-2.26],[-0.1,-2.35],[-0.09,-2.44],[-0.085,-2.1],[-0.085,-2.2],[-0.08,-2.3],[-0.08,-2.39],[-0.07,-2.04],[-0.07,-2.14],[-0.065,-2.24],[-0.065,-2.34],[-0.055,-2.08],[-0.055,-2.18],[-0.05,-2.28],[-0.045,-2.12],[-0.04,-2.22],[-0.03,-2.16],
[-0.17,-2.3],[-0.16,-2.33],[-0.15,-2.27],[-0.14,-2.36],[-0.13,-2.3],[-0.12,-2.27],[-0.11,-2.37],[-0.1,-2.3],[-0.15,-2.4],[-0.13,-2.43],[-0.12,-2.2],[-0.14,-2.2],[-0.16,-2.25],[-0.1,-2.2],[-0.09,-2.33],[-0.18,-2.36],[-0.17,-2.4],[-0.12,-2.34],[-0.14,-2.29],[-0.11,-2.26],
[-0.18,-3.02],[-0.13,-3.0],[-0.12,-3.0],[-0.19,-3.18],[-0.2,-3.2],[-0.22,-3.28],[-0.21,-3.25],[-0.24,-3.12],[-0.26,-2.85],[-0.16,-2.85],[-0.21,-2.9],[-0.23,-2.95]
];
const panelFExtra = [
[-0.21,-2.25],[-0.2,-2.3],[-0.195,-2.43],[-0.19,-2.28],[-0.185,-2.17],[-0.18,-2.33],[-0.175,-2.42],[-0.17,-2.19],[-0.165,-2.36],[-0.16,-2.28],[-0.155,-2.45],[-0.15,-2.21],[-0.145,-2.39],[-0.14,-2.31],[-0.135,-2.26],[-0.13,-2.4],[-0.125,-2.23],[-0.12,-2.35],[-0.115,-2.29],[-0.11,-2.44],[-0.105,-2.18],[-0.1,-2.4],[-0.095,-2.23],[-0.09,-2.37],[-0.085,-2.27],[-0.08,-2.15],[-0.075,-2.35],[-0.07,-2.27],[-0.065,-2.19],[-0.06,-2.3],[-0.055,-2.24],[-0.05,-2.14],[-0.045,-2.35],[-0.04,-2.28],[-0.035,-2.1],[-0.17,-2.5],[-0.15,-2.55],[-0.13,-2.5],[-0.11,-2.55],[-0.19,-2.55],[-0.23,-2.3],[-0.23,-2.45],[-0.24,-2.2],[-0.22,-2.5],[-0.16,-2.05],[-0.13,-2.13],[-0.09,-2.05],[-0.06,-2.05],[-0.04,-2.05],[-0.02,-2.2],[-0.02,-2.3],[-0.03,-2.4],[-0.06,-2.45],[-0.08,-2.5],[-0.1,-2.6],[-0.14,-2.6],[-0.18,-2.62],[-0.2,-2.58],[-0.26,-2.55],[-0.28,-2.45],[-0.27,-2.35],[-0.25,-2.25],[-0.24,-2.1],[-0.21,-2.05],[-0.17,-2.0],[-0.12,-1.95],[-0.2,-1.88],[-0.16,-1.87],[-0.06,-1.82],[-0.12,-1.7],[-0.08,-1.65],[-0.18,-1.55],[0.02,-1.6],[0.04,-1.75],[0.1,-1.8],[0.13,-1.85],[0.15,-1.58],[0.09,-1.5],[0.16,-1.45],[-0.08,-1.4],[-0.05,-1.35],[0.05,-1.4]
];

const panelData  = [panelA.concat(panelAExtra), panelD.concat(panelDExtra), panelB.concat(panelBExtra),
                    panelE.concat(panelEExtra), panelC.concat(panelCExtra), panelF.concat(panelFExtra)];
const panelTags  = ['(a)', '(d)', '(b)', '(e)', '(c)', '(f)'];
const xNames     = ['[Mg/Fe]', '[Mg/Fe]', '[K/Sc]', '[K/Sc]', '[Na/Al]', '[Na/Al]'];
const yNames     = ['[C/Mg]', '[C/Mg]', '[Sc/C]', '[Sc/C]', '[N/Al]', '[N/Al]'];
const xRanges    = [[-1.5, 0.5], [-1.0, 1.5], [-1.0, 0.0], [0.0, 1.0], [-1.0, 0.5], [-1.0, 0.5]];
const yRanges    = [[-0.5, 0.5], [-1.5, 0.0], [-1.0, 0.5], [-1.5, 0.0], [-3.0, -1.0], [-3.5, -1.0]];
const tickStep   = 0.5;

// ---------- layout ----------
const FONT = '"Liberation Serif", "Times New Roman", serif';
const grids = [
  {left: 37, top: 9,   width: 261, height: 157},
  {left: 398, top: 9,  width: 260, height: 157},
  {left: 37, top: 216, width: 261, height: 157},
  {left: 398, top: 216,width: 260, height: 157},
  {left: 37, top: 424, width: 261, height: 156},
  {left: 398, top: 424,width: 260, height: 156}
];
const tagPos = [[275,43],[634,52],[275,250],[632,261],[275,457],[632,458]];

function fmt(v){ if (Math.abs(v) < 1e-9) v = 0; return v.toFixed(1).replace('-', '\u2212'); }

const lineStyle = {color: '#000', width: 1};
const xAxis = [], yAxis = [], series = [], graphic = [];
for (let i = 0; i < 6; i++) {
  const common = {gridIndex: i, type: 'value', interval: tickStep, splitLine: {show: false},
    axisTick: {show: true, inside: true, length: 4, lineStyle: lineStyle}};
  xAxis.push(Object.assign({}, common, {
    position: 'bottom', min: xRanges[i][0], max: xRanges[i][1],
    axisLine: {show: true, onZero: false, lineStyle: lineStyle},
    axisLabel: {show: true, color: '#000', fontFamily: FONT, fontSize: 11, margin: 4, formatter: fmt, showMinLabel: true, showMaxLabel: true},
    name: xNames[i], nameLocation: 'middle', nameGap: 20,
    nameTextStyle: {color: '#000', fontFamily: FONT, fontSize: 11}
  }));
  yAxis.push(Object.assign({}, common, {
    position: 'left', min: yRanges[i][0], max: yRanges[i][1],
    axisLine: {show: true, onZero: false, lineStyle: lineStyle},
    axisLabel: {show: true, color: '#000', fontFamily: FONT, fontSize: 11, margin: 4, formatter: fmt, showMinLabel: true, showMaxLabel: true},
    name: yNames[i], nameLocation: 'middle', nameGap: 27, nameRotate: 90,
    nameTextStyle: {color: '#000', fontFamily: FONT, fontSize: 11}
  }));
}
for (let i = 0; i < 6; i++) {
  const common = {gridIndex: i, type: 'value', interval: tickStep, splitLine: {show: false},
    axisTick: {show: true, inside: true, length: 4, lineStyle: lineStyle},
    axisLabel: {show: false}, axisLine: {show: true, onZero: false, lineStyle: lineStyle}};
  xAxis.push(Object.assign({}, common, {position: 'top', min: xRanges[i][0], max: xRanges[i][1]}));
  yAxis.push(Object.assign({}, common, {position: 'right', min: yRanges[i][0], max: yRanges[i][1]}));
}
for (let i = 0; i < 6; i++) {
  series.push({type: 'scatter', xAxisIndex: i, yAxisIndex: i, data: panelData[i],
    symbol: 'circle', symbolSize: 2, itemStyle: {color: '#000'}, silent: true});
  graphic.push({type: 'text', x: tagPos[i][0], y: tagPos[i][1],
    style: {text: panelTags[i], font: '14px ' + FONT, fill: '#000', align: 'center', verticalAlign: 'middle'}});
}

const chart = echarts.init(document.getElementById('c'), null, {renderer: 'canvas'});
chart.setOption({animation: false, backgroundColor: '#fff', grid: grids, xAxis, yAxis, series, graphic});
</script>
</body>
</html>
